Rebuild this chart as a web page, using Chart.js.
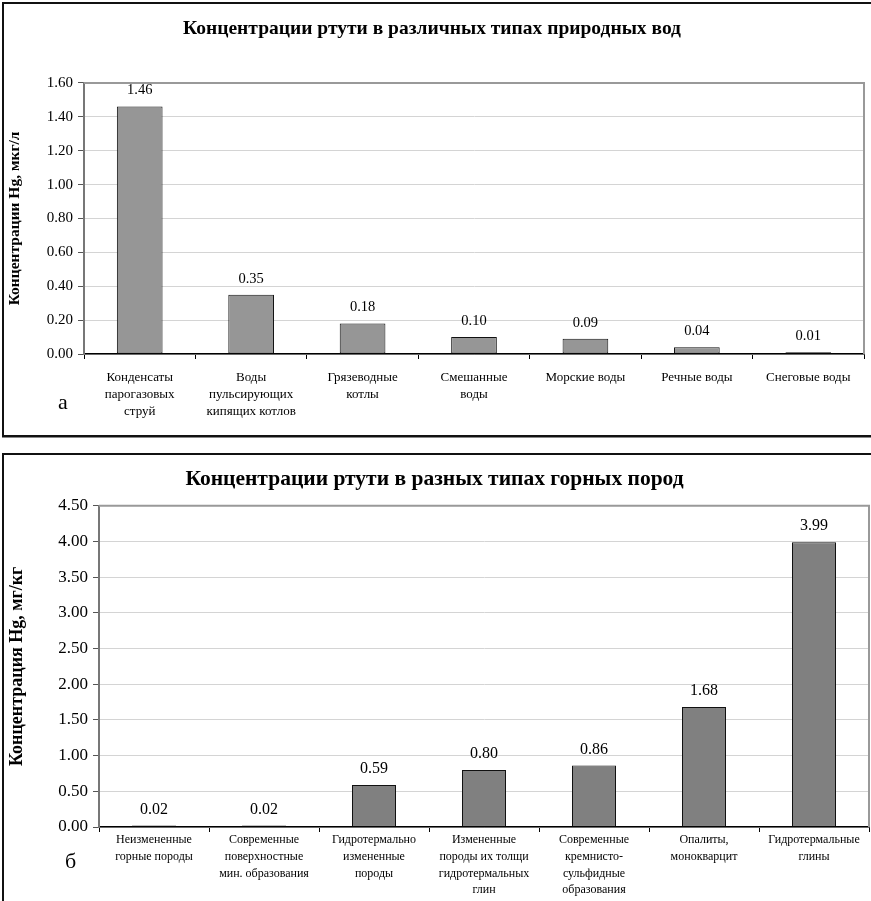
<!DOCTYPE html>
<html>
<head>
<meta charset="utf-8">
<script src="https://cdn.jsdelivr.net/npm/chart.js@4.4.1/dist/chart.umd.min.js"></script>
<style>
  body { margin: 0; background: #fff; width: 871px; height: 901px; position: relative; overflow: hidden; }
  .frame { position: absolute; left: 2px; border: 2px solid #111; box-shadow: 0 1px 0 #888; }
  .letter { position: absolute; font-family: 'Liberation Serif', serif; font-size: 22px; color: #000; }
  canvas { position: absolute; left: 0; }
</style>
</head>
<body>
<div class="frame" style="top:2px; width:880px; height:431px;"></div>
<div class="frame" style="top:453px; width:880px; height:460px;"></div>
<div style="position:absolute; left:0; top:0; width:871px; height:437px;"><canvas id="waterChart"></canvas></div>
<div style="position:absolute; left:0; top:455px; width:871px; height:446px;"><canvas id="rockChart"></canvas></div>
<div class="letter" style="left:58px; top:389px;">а</div>
<div class="letter" style="left:65px; top:848px;">б</div>

<script>
// Top chart: mercury in natural waters (мкг/л)
const waterLabels = [
  ['Конденсаты', 'парогазовых', 'струй'],
  ['Воды', 'пульсирующих', 'кипящих котлов'],
  ['Грязеводные', 'котлы'],
  ['Смешанные', 'воды'],
  'Морские воды',
  'Речные воды',
  'Снеговые воды'
];
const waterValues = [1.46, 0.35, 0.18, 0.10, 0.09, 0.04, 0.01];

// Bottom chart: mercury in rocks (мг/кг)
const rockLabels = [
  ['Неизмененные', 'горные породы'],
  ['Современные', 'поверхностные', 'мин. образования'],
  ['Гидротермально', 'измененные', 'породы'],
  ['Измененные', 'породы их толщи', 'гидротермальных', 'глин'],
  ['Современные', 'кремнисто-', 'сульфидные', 'образования'],
  ['Опалиты,', 'монокварцит'],
  ['Гидротермальные', 'глины']
];
const rockValues = [0.02, 0.02, 0.59, 0.80, 0.86, 1.68, 3.99];

const serif = "'Liberation Serif', 'Times New Roman', serif";

// value labels above the bars
const valueLabels = {
  id: 'valueLabels',
  afterDatasetsDraw(chart, args, opts) {
    const ctx = chart.ctx;
    const meta = chart.getDatasetMeta(0);
    const vals = chart.data.datasets[0].data;
    ctx.save();
    ctx.font = opts.size + 'px ' + serif;
    ctx.fillStyle = '#000';
    ctx.textAlign = 'center';
    ctx.textBaseline = 'middle';
    meta.data.forEach((bar, i) => {
      ctx.fillText(vals[i].toFixed(2), bar.x, bar.y - 16);
    });
    ctx.restore();
  }
};

// grey frame on the top and right of the plot area
const plotFrame = {
  id: 'plotFrame',
  afterDraw(chart) {
    const a = chart.chartArea;
    const ctx = chart.ctx;
    ctx.save();
    ctx.strokeStyle = '#999';
    ctx.lineWidth = 2;
    ctx.beginPath();
    ctx.moveTo(a.left, a.top);
    ctx.lineTo(a.right, a.top);
    ctx.lineTo(a.right, a.bottom);
    ctx.stroke();
    ctx.restore();
  }
};

function makeChart(id, labels, values, opts) {
  return new Chart(document.getElementById(id), {
    type: 'bar',
    data: {
      labels: labels,
      datasets: [{
        data: values,
        backgroundColor: opts.barColor,
        borderColor: '#111',
        borderWidth: 1,
        borderSkipped: false,
        categoryPercentage: 1,
        barPercentage: opts.barPct
      }]
    },
    options: {
      responsive: true,
      maintainAspectRatio: false,
      animation: false,
      layout: { padding: { left: 0, right: opts.padRight, top: 0, bottom: opts.padBottom } },
      plugins: {
        legend: { display: false },
        tooltip: { enabled: false },
        valueLabels: { size: opts.valFont },
        title: {
          display: true,
          text: opts.title,
          color: '#000',
          font: { family: serif, size: opts.titleFont, weight: 'bold' },
          padding: { top: opts.titleTop, bottom: opts.titleBottom }
        }
      },
      scales: {
        x: {
          afterFit: (s) => { s.height = opts.xHeight; },
          grid: { offset: true, drawOnChartArea: false, drawTicks: true, tickLength: 5, tickColor: '#000' },
          border: { color: '#000', width: 1.5 },
          ticks: {
            color: '#000',
            font: { family: serif, size: opts.xFont, lineHeight: opts.xLine },
            padding: opts.xPad,
            maxRotation: 0,
            autoSkip: false
          }
        },
        y: {
          min: 0,
          max: opts.yMax,
          afterFit: (s) => { s.width = opts.yWidth; },
          grid: { color: '#d4d4d4', tickColor: '#555', tickLength: 6 },
          border: { color: '#777', width: 2 },
          ticks: {
            stepSize: opts.yStep,
            color: '#000',
            padding: 5,
            font: { family: serif, size: opts.yFont },
            callback: (v) => Number(v).toFixed(2)
          },
          title: {
            display: true,
            text: opts.yTitle,
            color: '#000',
            font: { family: serif, size: opts.yTitleFont, weight: 'bold' },
            padding: { top: opts.yTitlePad, bottom: 0 }
          }
        }
      }
    },
    plugins: [valueLabels, plotFrame]
  });
}

makeChart('waterChart', waterLabels, waterValues, {
  title: 'Концентрации ртути в различных типах природных вод',
  titleFont: 19.5, titleTop: 17, titleBottom: 42.5,
  yTitle: 'Концентрации Hg, мкг/л',
  yTitleFont: 15.5, yTitlePad: 6,
  barColor: '#969696',
  barPct: 0.41,
  yMax: 1.6, yStep: 0.2, yFont: 15,
  yWidth: 84, padRight: 7,
  xHeight: 80, padBottom: 3,
  xFont: 13, xLine: 1.3, xPad: 10,
  valFont: 14.5
});

makeChart('rockChart', rockLabels, rockValues, {
  title: 'Концентрации ртути в разных типах горных пород',
  titleFont: 21.5, titleTop: 12, titleBottom: 13,
  yTitle: 'Концентрация Hg, мг/кг',
  yTitleFont: 18, yTitlePad: 7,
  barColor: '#808080',
  barPct: 0.4,
  yMax: 4.5, yStep: 0.5, yFont: 17,
  yWidth: 99, padRight: 2,
  xHeight: 72, padBottom: 2,
  xFont: 12, xLine: 1.38, xPad: 0,
  valFont: 16
});
</script>
</body>
</html>
